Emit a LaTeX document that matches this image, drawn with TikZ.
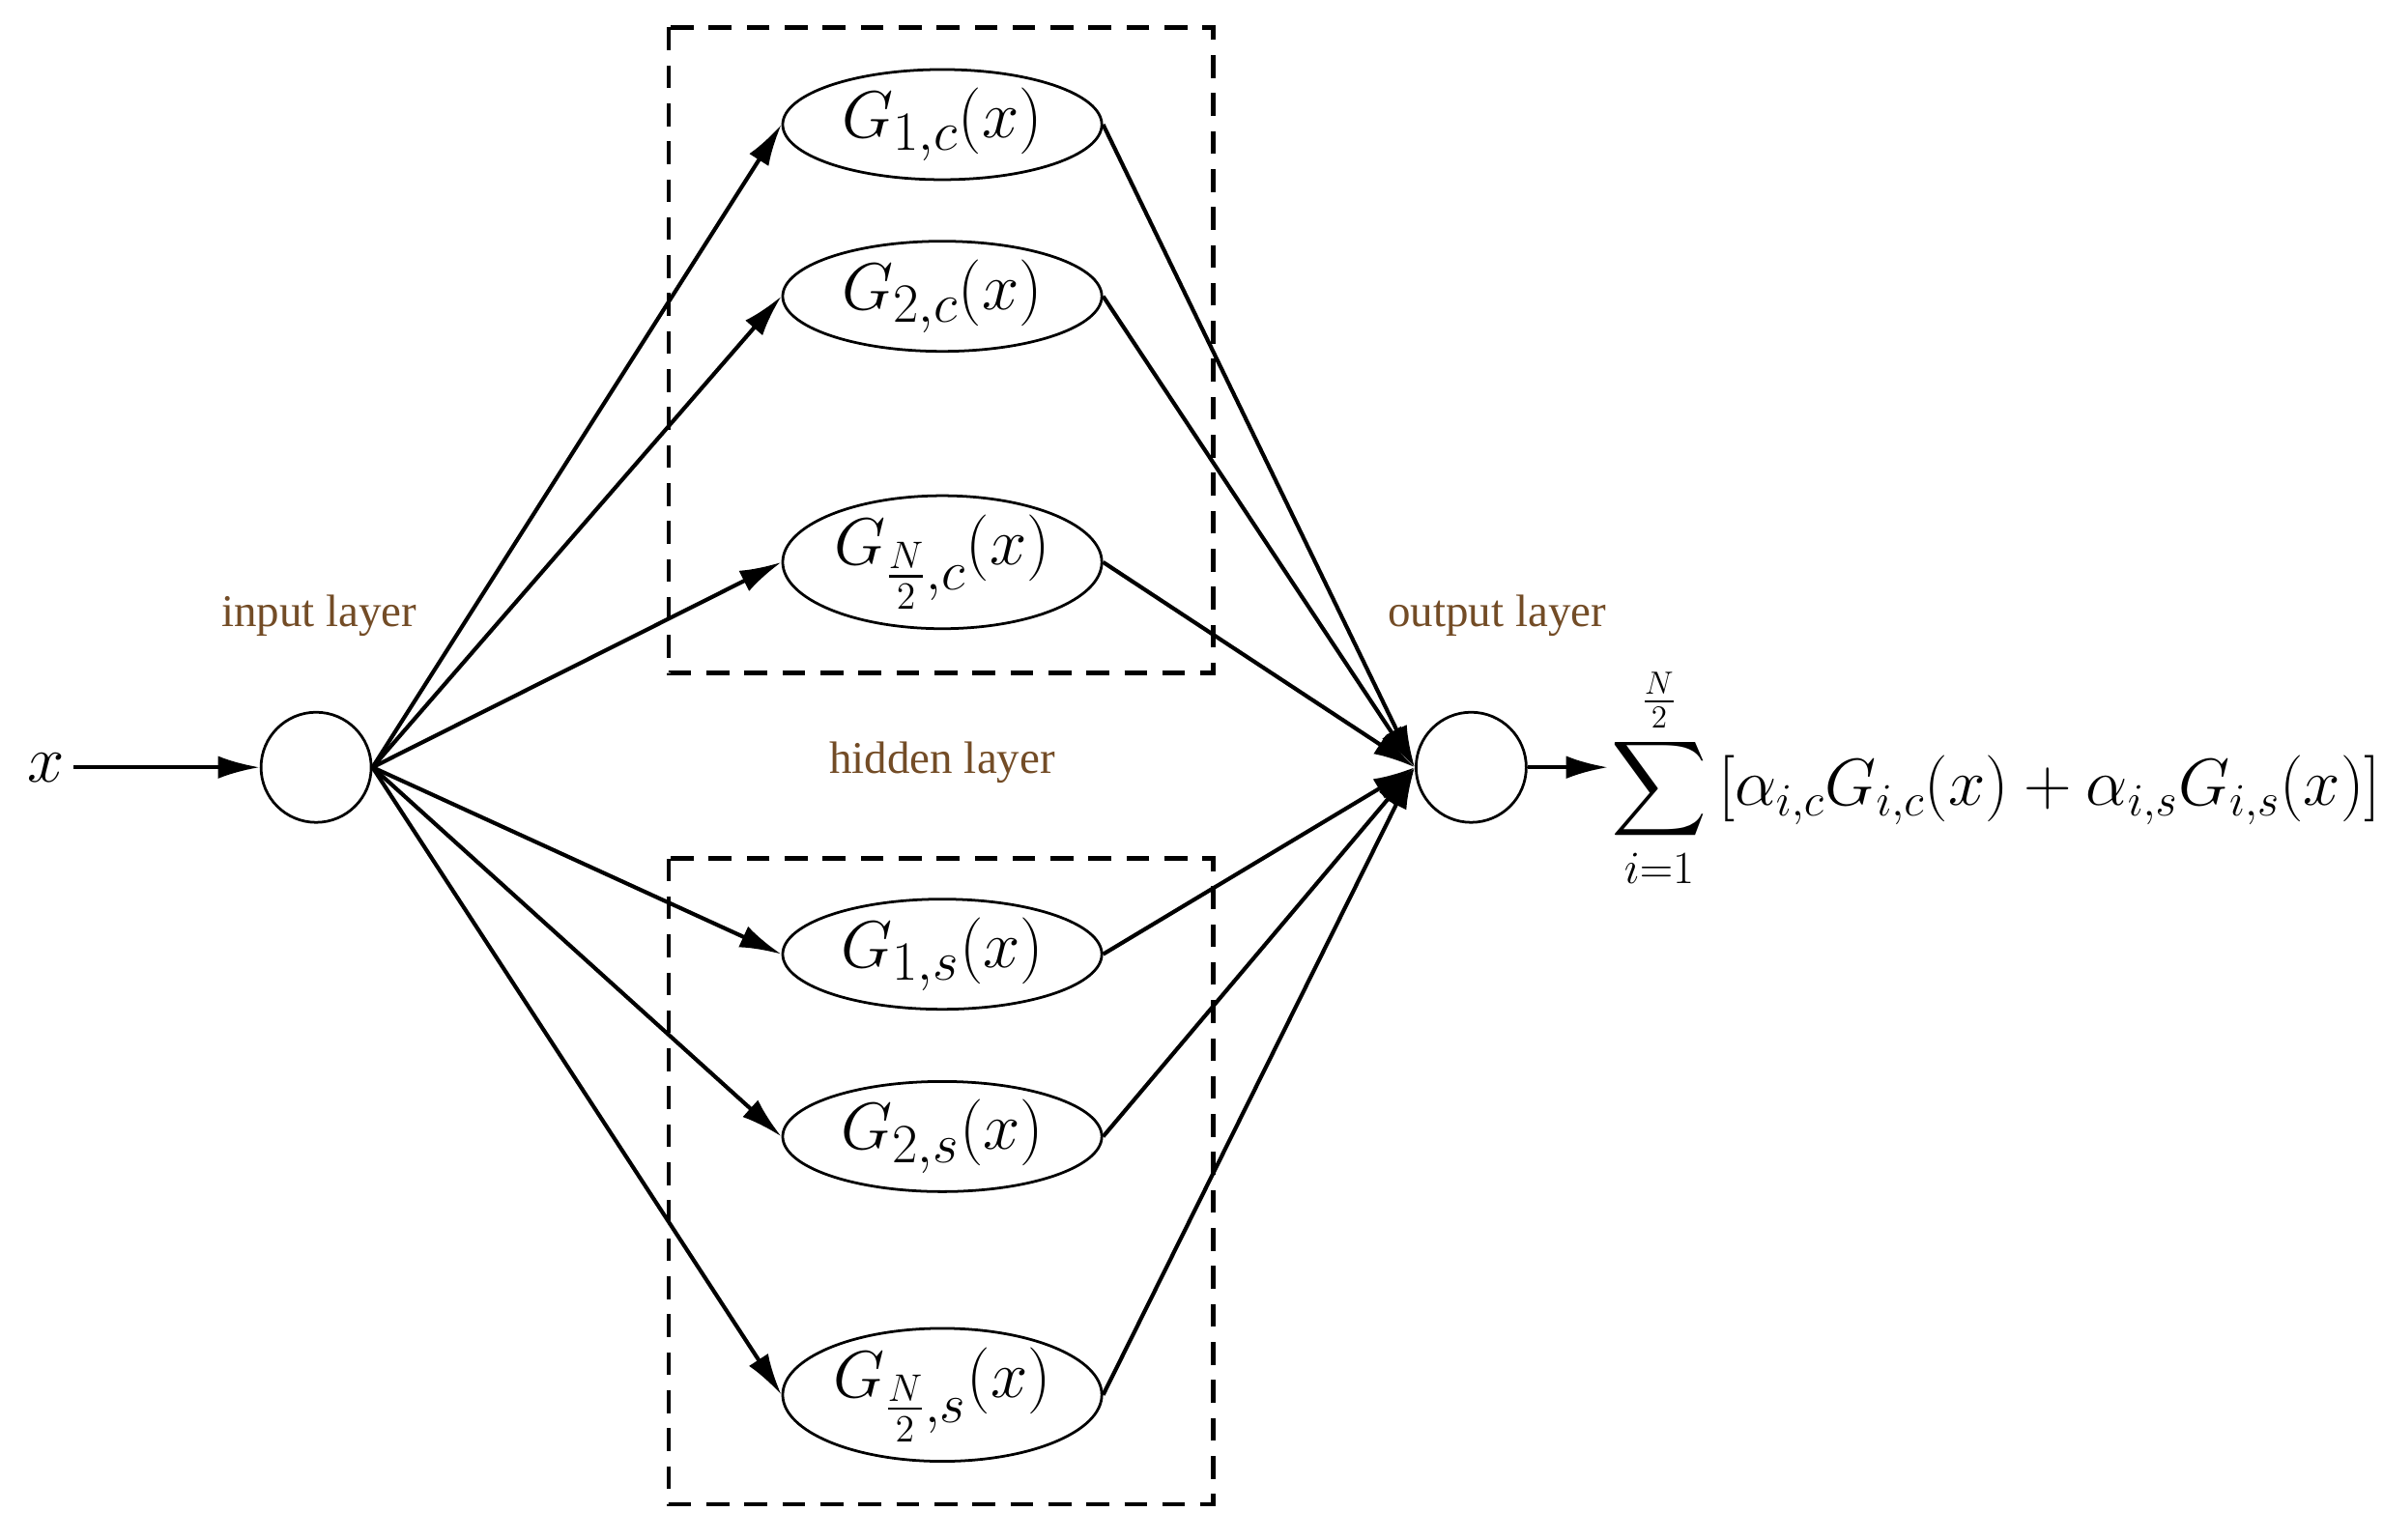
\documentclass[tikz,border=0pt]{standalone}
\usepackage{exscale}
\usepackage{fontspec}
\newfontfamily\lab{Liberation Serif}
\usetikzlibrary{shapes.geometric,arrows.meta}
\begin{document}
\begin{tikzpicture}[x=0.02cm,y=-0.02cm,
  every node/.style={font=\fontsize{30}{36}\selectfont},
  hid/.style={ellipse,draw,line width=1pt,minimum width=4.2cm,minimum height=1.45cm,inner sep=0pt},
  neu/.style={circle,draw,line width=1pt,minimum size=1.45cm,inner sep=0pt},
  ar/.style={line width=1.5pt,-{Latex[length=0.55cm,width=0.3cm]}},
  box/.style={draw,line width=1.8pt,dash pattern=on 0.3cm off 0.2cm},
  lbl/.style={font=\lab\fontsize{17}{20}\selectfont,text=brown!60!black}]
\useasboundingbox (0,0) rectangle (1568,1013);
\draw[box] (440,18) rectangle (798,443);
\draw[box] (440,565) rectangle (798,990);
\node (x) at (30,505) {$x$};
\node[neu] (in) at (208,505) {};
\node[neu] (out) at (968,505) {};
\node[lbl] at (210,405) {input layer};
\node[lbl] at (985,405) {output layer};
\node[lbl] at (620,502) {hidden layer};
\node[hid] (c1) at (620,82) {$G_{1,c}(x)$};
\node[hid] (c2) at (620,195) {$G_{2,c}(x)$};
\node[hid] (c3) at (620,370) {$G_{\frac N2,c}(x)$};
\node[hid] (s1) at (620,628) {$G_{1,s}(x)$};
\node[hid] (s2) at (620,748) {$G_{2,s}(x)$};
\node[hid] (s3) at (620,918) {$G_{\frac N2,s}(x)$};
\coordinate (se) at (1058,505);
\node[anchor=west,inner sep=1pt,font=\fontsize{25}{30}\selectfont] (sum) at (1058,512) {$\displaystyle\sum_{i=1}^{\frac N2}\left[\alpha_{i,c}G_{i,c}(x)+\alpha_{i,s}G_{i,s}(x)\right]$};
\draw[ar] (x) -- (in);
\foreach \n in {c1,c2,c3,s1,s2,s3}{
  \draw[ar] (in.east) -- (\n.west);
  \draw[ar] (\n.east) -- (out.west);
}
\draw[ar] (out.east) -- (se);
\end{tikzpicture}
\end{document}
